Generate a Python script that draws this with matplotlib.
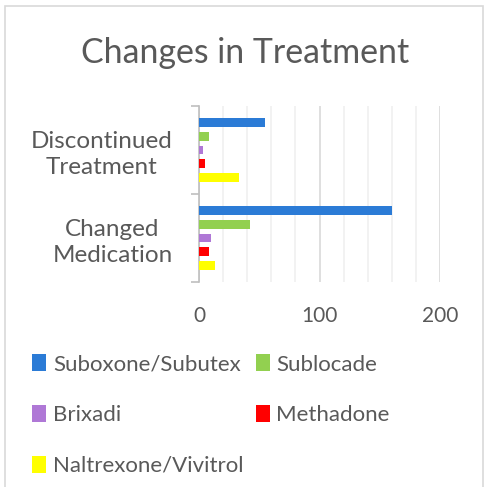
import matplotlib.pyplot as plt
from matplotlib.patches import Rectangle
import numpy as np

categories = ["Discontinued\nTreatment", "Changed\nMedication"]
series = ["Suboxone/Subutex", "Sublocade", "Brixadi", "Methadone", "Naltrexone/Vivitrol"]
values = {
    "Suboxone/Subutex": [55, 160],
    "Sublocade": [8, 42],
    "Brixadi": [3, 10],
    "Methadone": [5, 8],
    "Naltrexone/Vivitrol": [33, 13],
}
colors = ["#2B7BD6", "#92D050", "#AF78D6", "#FF0000", "#FFFF00"]
xticks = [0, 100, 200]

plt.rcParams['font.family'] = ['Lato', 'DejaVu Sans']
txt = "#595959"

fig = plt.figure(figsize=(4.91, 4.87), dpi=100)
ax = fig.add_axes([199 / 491, 1 - 282 / 487, 241 / 491, 176 / 487])

y = np.arange(len(categories))
step = 0.155
handles = []
for i, name in enumerate(series):
    b = ax.barh(y + (i - 2) * step, values[name], height=0.1, color=colors[i], label=name, zorder=3)
    handles.append(b)

ax.set_xlim(0, 200)
ax.set_ylim(1.5, -0.5)
ax.set_xticks(xticks)
ax.set_xticks(np.arange(0, 201, 20), minor=True)
ax.grid(axis='x', which='minor', color="#F0F0F0", linewidth=1.2, zorder=0)
ax.grid(axis='x', which='major', color="#D9D9D9", linewidth=1.2, zorder=1)
ax.tick_params(axis='x', which='both', length=0, labelsize=15, labelcolor=txt, pad=17)

ax.set_yticks([-0.5, 0.5, 1.5])
ax.set_yticklabels([])
ax.tick_params(axis='y', which='major', length=6, color="#BFBFBF", width=1.2)
ax.set_yticks(y, minor=True)
ax.set_yticklabels(categories, minor=True, fontsize=17.5, color=txt,
                   multialignment='center', linespacing=1.3)
ax.tick_params(axis='y', which='minor', length=0, pad=19)

for s in ["top", "right", "bottom"]:
    ax.spines[s].set_visible(False)
ax.spines["left"].set_color("#BFBFBF")
ax.spines["left"].set_linewidth(1.2)

fig.text(0.5, 1 - 63 / 487, "Changes in Treatment", ha='center', va='baseline', fontsize=24.4, color=txt)

order = [0, 2, 4, 1, 3]
leg = fig.legend([handles[k] for k in order], [series[k] for k in order], ncol=2,
                 loc='upper left', bbox_to_anchor=(28 / 491, 1 - 350 / 487), frameon=False,
                 fontsize=16, handlelength=0.63, handleheight=0.8, handletextpad=0.3,
                 labelspacing=1.37, columnspacing=0.55, borderaxespad=0, borderpad=0.2)
for t in leg.get_texts():
    t.set_color(txt)

fig.patches.append(Rectangle((5 / 491, -0.1), 478 / 491, 1.1 - 6 / 487, transform=fig.transFigure,
                             fill=False, edgecolor="#D9D9D9", linewidth=1.2))

fig.savefig("out.png", dpi=100)
